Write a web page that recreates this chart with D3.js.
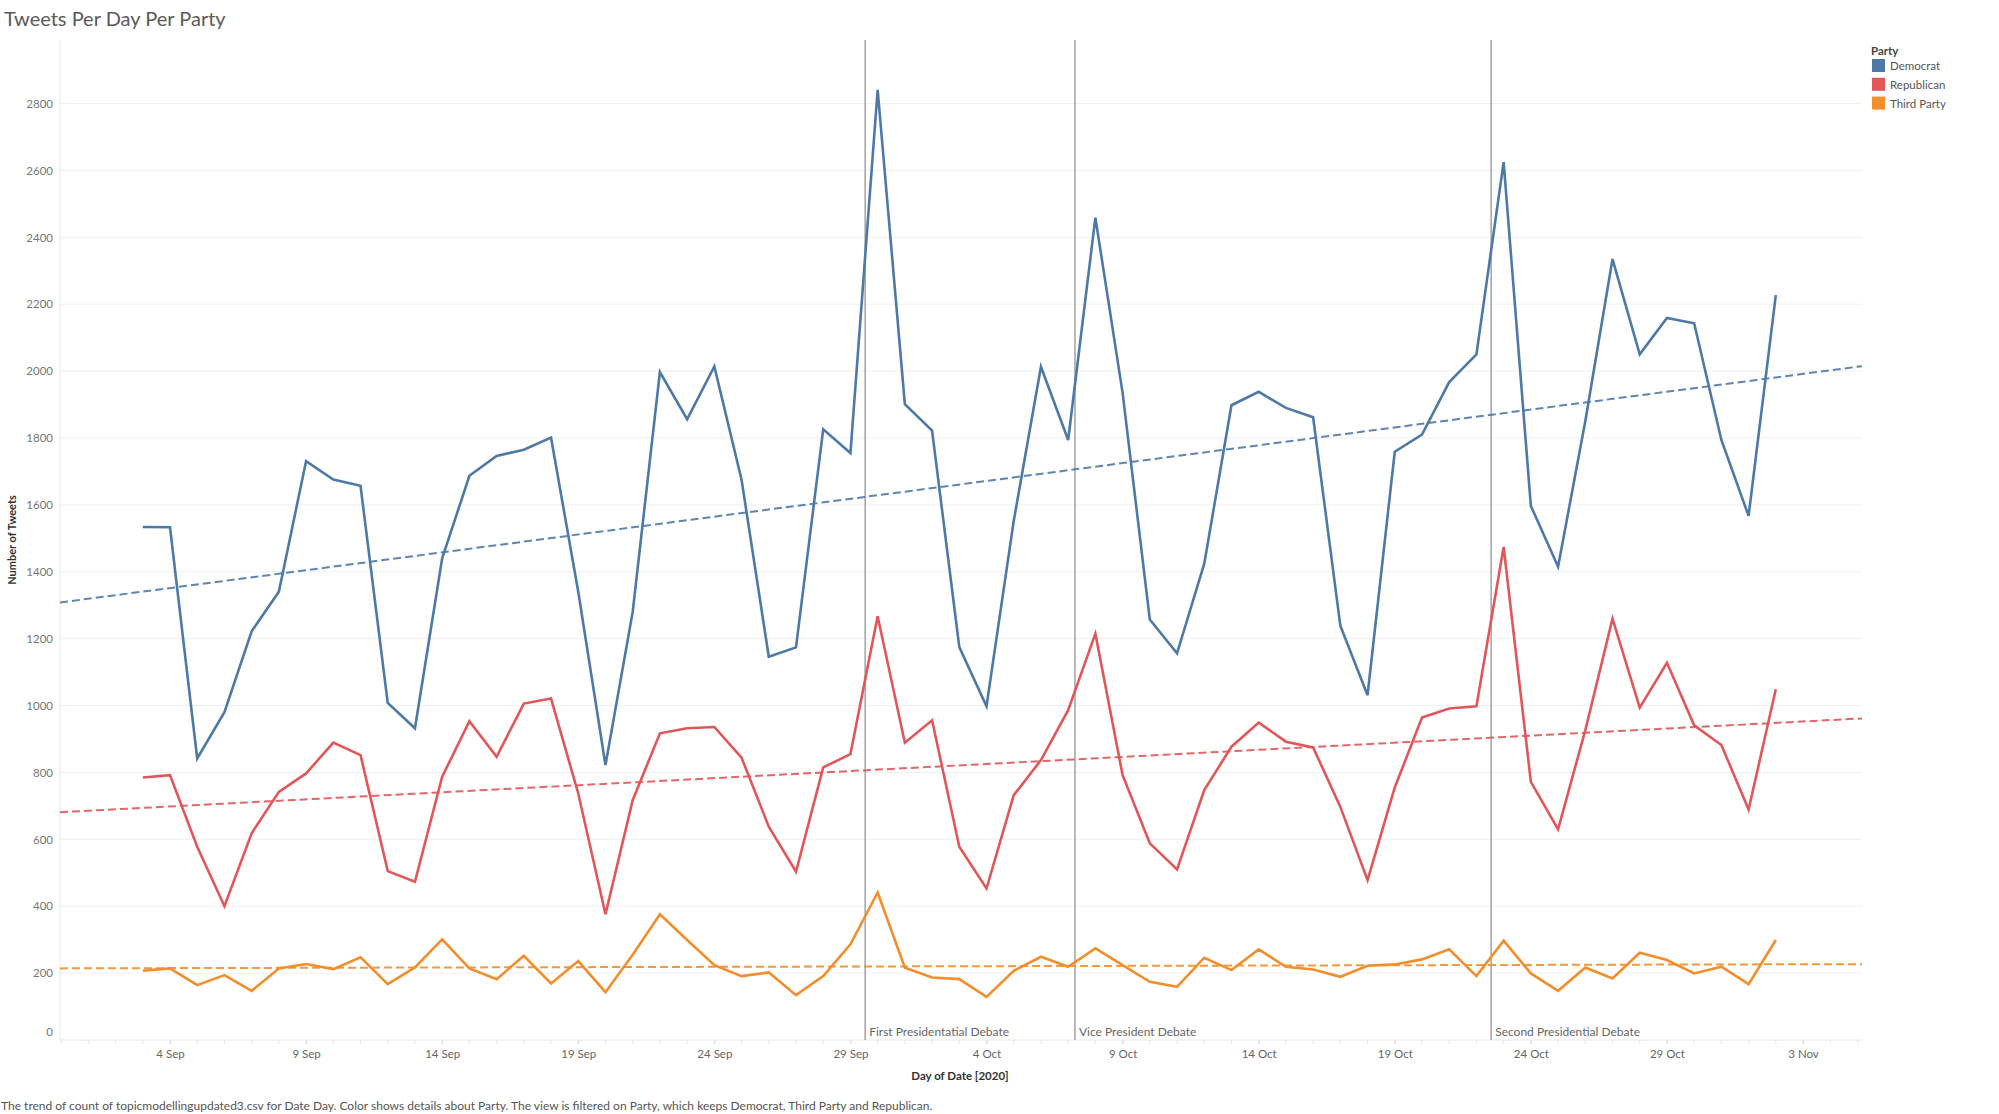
<!DOCTYPE html>
<html><head><meta charset="utf-8">
<script src="https://cdn.jsdelivr.net/npm/d3@7"></script>
<style>
body{margin:0;background:#fff;}
text{font-family:Lato,"Open Sans",sans-serif;}
</style>
</head><body>
<svg id="chart" width="1999" height="1114"></svg>
<script>
const days = ["2020-09-03","2020-09-04","2020-09-05","2020-09-06","2020-09-07","2020-09-08","2020-09-09","2020-09-10","2020-09-11","2020-09-12",
"2020-09-13","2020-09-14","2020-09-15","2020-09-16","2020-09-17","2020-09-18","2020-09-19","2020-09-20","2020-09-21","2020-09-22",
"2020-09-23","2020-09-24","2020-09-25","2020-09-26","2020-09-27","2020-09-28","2020-09-29","2020-09-30",
"2020-10-01","2020-10-02","2020-10-03","2020-10-04","2020-10-05","2020-10-06","2020-10-07","2020-10-08","2020-10-09","2020-10-10",
"2020-10-11","2020-10-12","2020-10-13","2020-10-14","2020-10-15","2020-10-16","2020-10-17","2020-10-18","2020-10-19","2020-10-20",
"2020-10-21","2020-10-22","2020-10-23","2020-10-24","2020-10-25","2020-10-26","2020-10-27","2020-10-28","2020-10-29","2020-10-30",
"2020-10-31","2020-11-01","2020-11-02"];
const democrat = [1534,1533,842,980,1222,1340,1731,1676,1657,1008,
932,1440,1687,1746,1765,1801,1340,822,1280,1997,
1856,2014,1675,1146,1174,1826,1755,2841,
1901,1822,1175,998,1552,2013,1794,2459,1935,1257,
1156,1424,1898,1938,1890,1862,1239,1031,1759,1810,
1967,2050,2625,1597,1415,1850,2335,2050,2159,2143,
1794,1567,2227];
const republican = [785,792,578,400,618,742,797,889,852,505,
473,787,953,847,1006,1021,737,376,717,917,
932,936,844,638,503,815,855,1267,
889,956,578,453,732,837,986,1215,792,588,
510,747,877,949,892,875,697,478,755,964,
991,998,1474,772,630,926,1260,994,1128,941,
882,689,1049];
const thirdParty = [207,214,164,194,147,214,227,212,247,167,
217,301,214,182,252,169,236,143,255,376,
299,224,191,202,134,191,286,441,
216,187,182,129,207,249,219,274,224,174,
159,246,209,271,219,211,189,222,226,241,
271,191,297,199,147,217,184,261,239,199,
219,167,299];
const parties = ["Democrat","Republican","Third Party"];
const partyColors = ["#4e79a7","#e15759","#f28e2b"];
const yTicks = [0,200,400,600,800,1000,1200,1400,1600,1800,2000,2200,2400,2600,2800];
const xTickDays = ["2020-09-04","2020-09-09","2020-09-14","2020-09-19","2020-09-24","2020-09-29","2020-10-04","2020-10-09","2020-10-14","2020-10-19","2020-10-24","2020-10-29","2020-11-03"];
const xTickLabels = ["4 Sep","9 Sep","14 Sep","19 Sep","24 Sep","29 Sep","4 Oct","9 Oct","14 Oct","19 Oct","24 Oct","29 Oct","3 Nov"];
const minorTickDays = ["2020-08-31","2020-09-01","2020-09-02","2020-09-03","2020-09-04","2020-09-05","2020-09-06","2020-09-07","2020-09-08","2020-09-09","2020-09-10","2020-09-11","2020-09-12","2020-09-13","2020-09-14","2020-09-15","2020-09-16","2020-09-17","2020-09-18","2020-09-19","2020-09-20","2020-09-21","2020-09-22","2020-09-23","2020-09-24","2020-09-25","2020-09-26","2020-09-27","2020-09-28","2020-09-29","2020-09-30","2020-10-01","2020-10-02","2020-10-03","2020-10-04","2020-10-05","2020-10-06","2020-10-07","2020-10-08","2020-10-09","2020-10-10","2020-10-11","2020-10-12","2020-10-13","2020-10-14","2020-10-15","2020-10-16","2020-10-17","2020-10-18","2020-10-19","2020-10-20","2020-10-21","2020-10-22","2020-10-23","2020-10-24","2020-10-25","2020-10-26","2020-10-27","2020-10-28","2020-10-29","2020-10-30","2020-10-31","2020-11-01","2020-11-02","2020-11-03","2020-11-04","2020-11-05"];
const debateTimes = ["2020-09-29T13:00:00Z","2020-10-07T06:00:00Z","2020-10-22T13:00:00Z"];
const debateLabels = ["First Presidentatial Debate","Vice President Debate","Second Presidential Debate"];
const xDomain = ["2020-08-30T23:00:00Z","2020-11-05T04:00:00Z"];
const yDomainMax = 2990;

const seriesValues = [democrat, republican, thirdParty];
const parseDay = s => new Date(s + "T00:00:00Z");
const dayDates = days.map(parseDay);

const m = {left: 60, right: 1862, top: 40, bottom: 1040};
const svg = d3.select("#chart");

const x = d3.scaleUtc().domain(xDomain.map(s => new Date(s))).range([m.left, m.right]);
const y = d3.scaleLinear().domain([0, yDomainMax]).range([m.bottom, m.top]);

// title
svg.append("text").attr("x", 4).attr("y", 26).attr("font-size", 20).attr("fill", "#5a5a5a")
  .text("Tweets Per Day Per Party");

// gridlines
svg.append("g").selectAll("line").data(yTicks.filter(v => v > 0)).join("line")
  .attr("x1", m.left).attr("x2", m.right)
  .attr("y1", d => y(d)).attr("y2", d => y(d))
  .attr("stroke", "#f0f0f0").attr("stroke-width", 1);

// axis lines
svg.append("line").attr("x1", m.left).attr("x2", m.left).attr("y1", m.top).attr("y2", m.bottom)
  .attr("stroke", "#e8e8e8");
svg.append("line").attr("x1", m.left).attr("x2", m.right).attr("y1", m.bottom).attr("y2", m.bottom)
  .attr("stroke", "#e8e8e8");

// y axis
const yAxis = d3.axisLeft(y).tickValues(yTicks).tickSize(0).tickPadding(7).tickFormat(d3.format("d"));
const gy = svg.append("g").attr("transform", `translate(${m.left},0)`).call(yAxis);
gy.select(".domain").remove();
gy.selectAll("text").attr("font-size", 11.5).attr("fill", "#777").attr("font-family", "Lato");
gy.selectAll(".tick").filter(d => d === 0).select("text").attr("dy", "-0.35em");

svg.append("text").attr("transform", `translate(16,540) rotate(-90)`).attr("text-anchor", "middle")
  .attr("font-size", 11).attr("font-weight", "bold").attr("fill", "#333").text("Number of Tweets");

// x axis minor ticks
svg.append("g").selectAll("line").data(minorTickDays.map(parseDay)).join("line")
  .attr("x1", d => x(d)).attr("x2", d => x(d)).attr("y1", m.bottom).attr("y2", m.bottom + 4)
  .attr("stroke", "#e8e8e8");

const xAxis = d3.axisBottom(x).tickValues(xTickDays.map(parseDay)).tickSize(4).tickPadding(6)
  .tickFormat((d, i) => xTickLabels[i]);
const gx = svg.append("g").attr("transform", `translate(0,${m.bottom})`).call(xAxis);
gx.select(".domain").remove();
gx.selectAll(".tick line").attr("stroke", "#ddd");
gx.selectAll("text").attr("font-size", 11.5).attr("fill", "#666").attr("font-family", "Lato");

svg.append("text").attr("x", 960).attr("y", 1080).attr("text-anchor", "middle")
  .attr("font-size", 11.5).attr("font-weight", "bold").attr("fill", "#333").text("Day of Date [2020]");

// debate reference lines
const gd = svg.append("g");
debateTimes.forEach((t, i) => {
  const xx = x(new Date(t));
  gd.append("line").attr("x1", xx).attr("x2", xx).attr("y1", m.top).attr("y2", m.bottom)
    .attr("stroke", "#a8a8a8").attr("stroke-width", 1.6);
  gd.append("text").attr("x", xx + 4).attr("y", 1036).attr("font-size", 12).attr("fill", "#666")
    .text(debateLabels[i]);
});

// trend lines (least squares on the plotted data)
function regression(dates, vals) {
  const xs = dates.map(d => d.getTime());
  const mx = d3.mean(xs), my = d3.mean(vals);
  let sxy = 0, sxx = 0;
  xs.forEach((xv, i) => { sxy += (xv - mx) * (vals[i] - my); sxx += (xv - mx) * (xv - mx); });
  const b = sxy / sxx;
  return t => my + b * (t - mx);
}
const dom = x.domain();
seriesValues.forEach((vals, k) => {
  const f = regression(dayDates, vals);
  svg.append("line")
    .attr("x1", x(dom[0])).attr("y1", y(f(dom[0].getTime())))
    .attr("x2", x(dom[1])).attr("y2", y(f(dom[1].getTime())))
    .attr("stroke", partyColors[k]).attr("stroke-width", 2).attr("stroke-dasharray", "8,4")
    .attr("opacity", 0.9);
});

// series lines
const line = d3.line().x((d, i) => x(dayDates[i])).y(d => y(d));
seriesValues.forEach((vals, k) => {
  svg.append("path").datum(vals).attr("d", line).attr("fill", "none")
    .attr("stroke", partyColors[k]).attr("stroke-width", 2.6).attr("stroke-linejoin", "miter");
});

// legend
const lg = svg.append("g");
lg.append("text").attr("x", 1871).attr("y", 55).attr("font-size", 11.5).attr("font-weight", "bold")
  .attr("fill", "#444").text("Party");
parties.forEach((p, i) => {
  lg.append("rect").attr("x", 1872).attr("y", 59 + i * 18.8).attr("width", 13).attr("height", 13)
    .attr("fill", partyColors[i]);
  lg.append("text").attr("x", 1890).attr("y", 70 + i * 18.8).attr("font-size", 11.5).attr("fill", "#555")
    .text(p);
});

// footnote
svg.append("text").attr("x", 1).attr("y", 1110).attr("font-size", 12).attr("fill", "#555")
  .text("The trend of count of topicmodellingupdated3.csv for Date Day.  Color shows details about Party. The view is filtered on Party, which keeps Democrat, Third Party and Republican.");
</script>
</body></html>
